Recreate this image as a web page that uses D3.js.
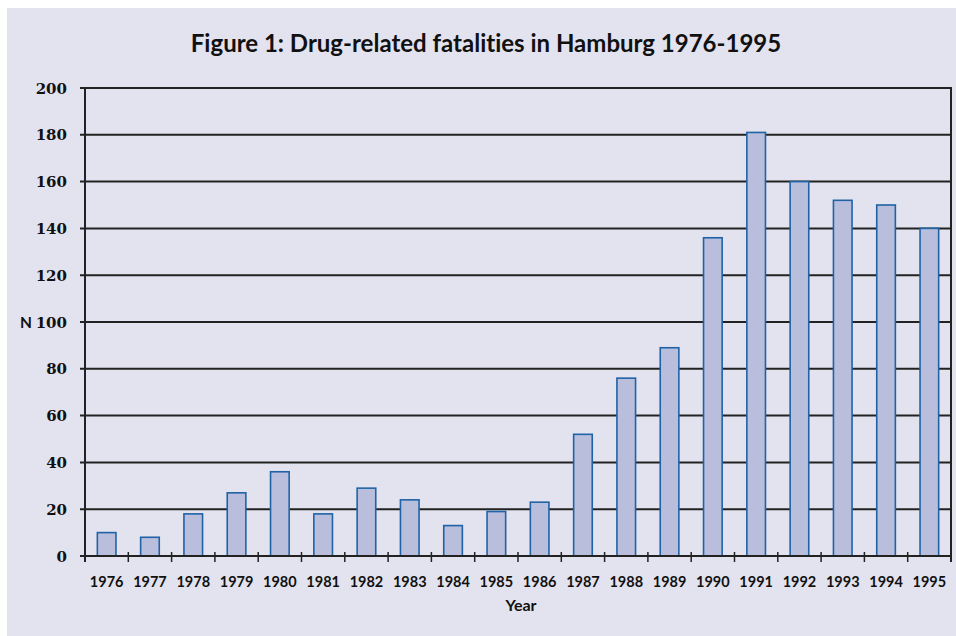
<!DOCTYPE html>
<html>
<head>
<meta charset="utf-8">
<script src="https://cdn.jsdelivr.net/npm/d3@7"></script>
<style>
  body { margin: 0; background: #fff; }
</style>
</head>
<body>
<script>
// data
const years = ["1976","1977","1978","1979","1980","1981","1982","1983","1984","1985",
               "1986","1987","1988","1989","1990","1991","1992","1993","1994","1995"];
const deaths = [10, 8, 18, 27, 36, 18, 29, 24, 13, 19, 23, 52, 76, 89, 136, 181, 160, 152, 150, 140];
const yTicks = [0, 20, 40, 60, 80, 100, 120, 140, 160, 180, 200];

function drawChart() {
    let svg = d3.select("body").append("svg")
        .attr("width", 956)
        .attr("height", 636);

    // lavender panel, white strip on top/left like the scan
    svg.append("rect")
        .attr("x", 7).attr("y", 8)
        .attr("width", 949).attr("height", 628)
        .attr("fill", "#e3e3ef");

    let left = 85, right = 951, top = 88, bottom = 556;

    let x = d3.scaleBand().domain(years).range([left, right]).paddingInner(0.57).paddingOuter(0.285);
    let xb = d3.scaleBand().domain(years).range([left, right]); // full bands, for tick marks
    let y = d3.scaleLinear().domain([0, 200]).range([bottom, top]);

    // grid lines
    svg.selectAll(".grid")
        .data(yTicks.filter(d => d > 0))
        .enter().append("line")
        .attr("x1", left - 5).attr("x2", right)
        .attr("y1", d => y(d)).attr("y2", d => y(d))
        .attr("stroke", "#222").attr("stroke-width", 2);

    // bars
    svg.selectAll(".bar")
        .data(deaths)
        .enter().append("rect")
        .attr("x", (d, i) => x(years[i]))
        .attr("y", d => y(d))
        .attr("width", x.bandwidth())
        .attr("height", d => bottom - y(d))
        .attr("fill", "#b9bedd")
        .attr("stroke", "#1f63a6")
        .attr("stroke-width", 1.6);

    // axes lines
    svg.append("line").attr("x1", left).attr("x2", left).attr("y1", top - 1).attr("y2", bottom + 6)
        .attr("stroke", "#222").attr("stroke-width", 2);
    svg.append("line").attr("x1", right).attr("x2", right).attr("y1", top - 1).attr("y2", bottom + 6)
        .attr("stroke", "#222").attr("stroke-width", 2);
    svg.append("line").attr("x1", left - 5).attr("x2", right).attr("y1", bottom).attr("y2", bottom)
        .attr("stroke", "#222").attr("stroke-width", 2);

    // x tick marks on band boundaries
    svg.selectAll(".xtick")
        .data(years.slice(1))
        .enter().append("line")
        .attr("x1", d => xb(d)).attr("x2", d => xb(d))
        .attr("y1", bottom - 4).attr("y2", bottom + 6)
        .attr("stroke", "#222").attr("stroke-width", 1.5);

    // y tick labels
    svg.selectAll(".ylab")
        .data(yTicks)
        .enter().append("text")
        .attr("x", 67)
        .attr("y", d => y(d) + 5.5)
        .attr("text-anchor", "end")
        .style("font-family", "'DejaVu Serif', serif")
        .style("font-weight", "bold")
        .style("font-size", "15px")
        .attr("fill", "#111")
        .text(d => d);

    // x tick labels
    svg.selectAll(".xlab")
        .data(years)
        .enter().append("text")
        .attr("x", d => xb(d) + xb.bandwidth() / 2)
        .attr("y", 587)
        .attr("text-anchor", "middle")
        .style("font-family", "Lato, sans-serif")
        .style("font-weight", "bold")
        .style("font-size", "14.5px")
        .attr("fill", "#111")
        .text(d => d);

    // axis titles
    svg.append("text")
        .attr("x", 521).attr("y", 611)
        .attr("text-anchor", "middle")
        .style("font-family", "Lato, sans-serif")
        .style("font-weight", "bold")
        .style("font-size", "16px")
        .attr("fill", "#111")
        .text("Year");

    svg.append("text")
        .attr("x", 20).attr("y", y(100) + 5.5)
        .style("font-family", "Lato, sans-serif")
        .style("font-weight", "bold")
        .style("font-size", "15.5px")
        .attr("fill", "#111")
        .text("N");

    svg.append("text")
        .attr("x", 486).attr("y", 52)
        .attr("text-anchor", "middle")
        .style("font-family", "Lato, sans-serif")
        .style("font-weight", "bold")
        .style("font-size", "24px")
        .style("font-variant-ligatures", "none")
        .attr("fill", "#111")
        .text("Figure 1: Drug-related fatalities in Hamburg 1976-1995");
}

document.addEventListener("DOMContentLoaded", drawChart);
</script>
</body>
</html>
